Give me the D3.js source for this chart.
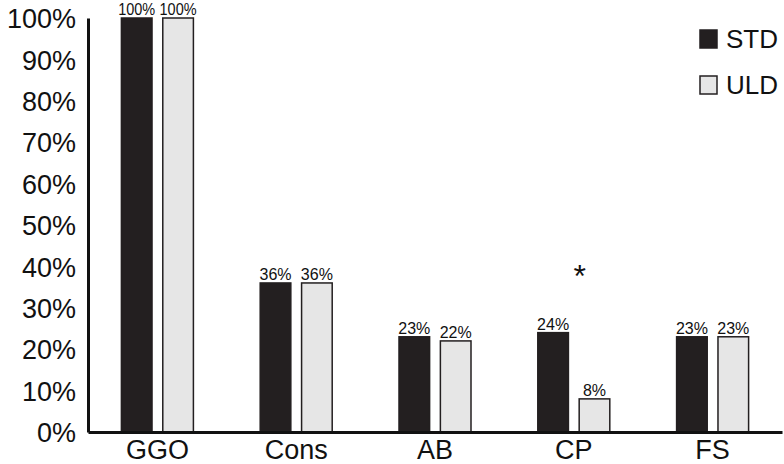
<!DOCTYPE html>
<html>
<head>
<meta charset="utf-8">
<script src="https://cdn.jsdelivr.net/npm/d3@7"></script>
<style>
  body { margin: 0; background: #fff; }
  text { font-family: "Liberation Sans", Arial, sans-serif; fill: #111; }
</style>
</head>
<body>
<script>
const categories = ['GGO', 'Cons', 'AB', 'CP', 'FS'];
const seriesNames = ['STD', 'ULD'];
const stdValues = [100, 36, 23, 24, 23];
const uldValues = [100, 36, 22, 8, 23];
const yTicks = [0, 10, 20, 30, 40, 50, 60, 70, 80, 90, 100];
const sigCategory = 'CP';

const width = 784, height = 464;
const plotLeft = 88, plotRight = 782, plotTop = 18, plotBottom = 432;
const colors = {STD: '#231f20', ULD: '#e6e6e6'};

const svg = d3.select('body').append('svg')
  .attr('width', width).attr('height', height);

const x = d3.scaleBand().domain(categories).range([plotLeft, plotRight]);
const xInner = d3.scaleBand().domain(seriesNames)
  .range([x.bandwidth() / 2 - 36, x.bandwidth() / 2 + 36]).paddingInner(0.26);
const y = d3.scaleLinear().domain([0, 100]).range([plotBottom, plotTop]);

const rows = categories.map((c, i) => ({cat: c, STD: stdValues[i], ULD: uldValues[i]}));

// bars
const groups = svg.append('g').selectAll('g').data(rows).enter().append('g')
  .attr('transform', d => `translate(${x(d.cat)},0)`);

groups.selectAll('rect')
  .data(d => seriesNames.map(s => ({s, v: d[s]})))
  .enter().append('rect')
  .attr('x', d => xInner(d.s))
  .attr('y', d => y(d.v))
  .attr('width', xInner.bandwidth())
  .attr('height', d => plotBottom - y(d.v))
  .attr('fill', d => colors[d.s])
  .attr('stroke', '#231f20')
  .attr('stroke-width', 1.5);

groups.selectAll('text.val')
  .data(d => seriesNames.map(s => ({s, v: d[s]})))
  .enter().append('text')
  .attr('class', 'val')
  .attr('x', d => xInner(d.s) + xInner.bandwidth() / 2)
  .attr('y', d => y(d.v) - 3)
  .attr('text-anchor', 'middle')
  .style('font-size', '16px')
  .attr('textLength', d => d.v === 100 ? 37 : null)
  .attr('lengthAdjust', 'spacingAndGlyphs')
  .text(d => d.v + '%');

// significance marker
svg.append('text')
  .attr('x', x(sigCategory) + x.bandwidth() / 2 + 6)
  .attr('y', 287)
  .attr('text-anchor', 'middle')
  .style('font-size', '32px')
  .text('*');

// y axis
const yAxis = svg.append('g')
  .attr('transform', `translate(${plotLeft},0)`)
  .call(d3.axisLeft(y).tickValues(yTicks).tickSize(0).tickPadding(12).tickFormat(d => d + '%'));
yAxis.select('.domain').attr('stroke', '#111').attr('stroke-width', 3);
yAxis.selectAll('text').style('font-size', '27px').attr('dy', '0.36em');

// x axis
const xAxis = svg.append('g')
  .attr('transform', `translate(0,${plotBottom})`)
  .call(d3.axisBottom(x).tickSize(0).tickPadding(8));
xAxis.select('.domain').attr('stroke', '#111').attr('stroke-width', 3);
xAxis.selectAll('text').style('font-size', '27px');

// legend
const legend = svg.append('g').attr('transform', 'translate(700,30)');
seriesNames.forEach((s, i) => {
  const g = legend.append('g').attr('transform', `translate(0,${i * 46})`);
  g.append('rect').attr('width', 17).attr('height', 18)
    .attr('fill', colors[s]).attr('stroke', '#231f20').attr('stroke-width', 1.5);
  g.append('text').attr('x', 26).attr('y', 9).attr('dy', '0.36em')
    .style('font-size', '26px').text(s);
});
</script>
</body>
</html>
